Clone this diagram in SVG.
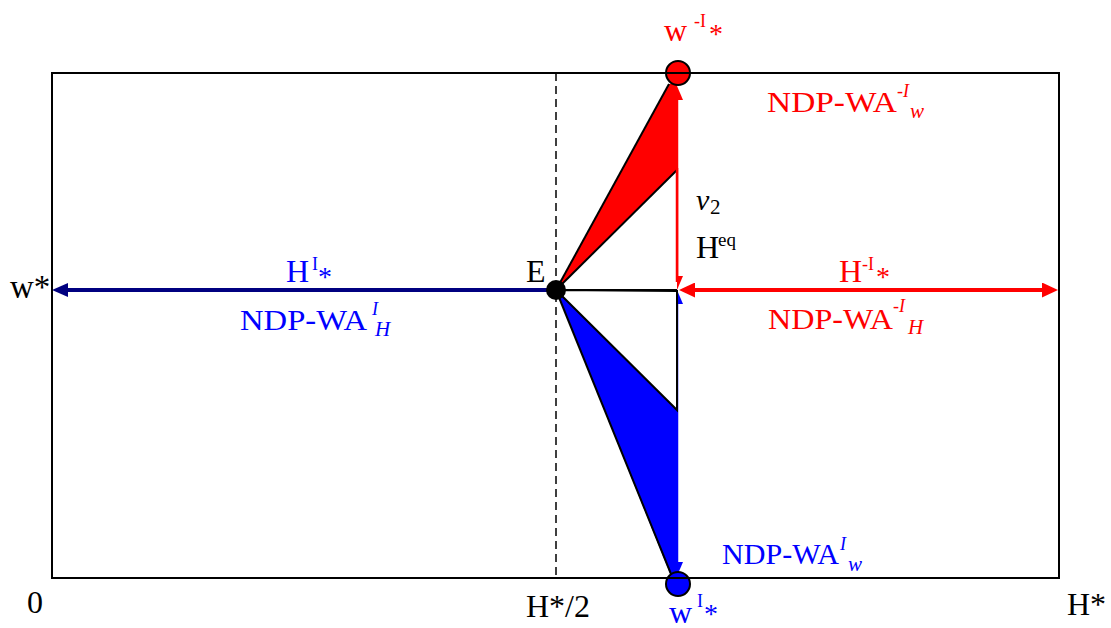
<svg xmlns="http://www.w3.org/2000/svg" width="1111" height="628" viewBox="0 0 1111 628">
<style>
text{font-family:"Liberation Serif","Times New Roman",serif;}
.k{fill:#000}.r{fill:#FF0000}.b{fill:#0000FF}
.m{font-size:29px}.big{font-size:32px}.sup{font-size:18px}.sub{font-size:21px;font-style:italic}.it{font-style:italic}.st{font-size:28px}
</style>
<defs>
<marker id="hN" markerUnits="userSpaceOnUse" markerWidth="16" markerHeight="14" refX="4" refY="7" orient="auto-start-reverse"><path d="M0,0 L16,7 L0,14 z" fill="#000080"/></marker>
<marker id="hR" markerUnits="userSpaceOnUse" markerWidth="16" markerHeight="15" refX="4" refY="7.5" orient="auto-start-reverse"><path d="M0,0 L16,7.5 L0,15 z" fill="#FF0000"/></marker>
<marker id="hRs" markerUnits="userSpaceOnUse" markerWidth="14" markerHeight="12" refX="4" refY="6" orient="auto-start-reverse"><path d="M0,0 L14,6 L0,12 z" fill="#FF0000"/></marker>
<marker id="hBs" markerUnits="userSpaceOnUse" markerWidth="14" markerHeight="12" refX="4" refY="6" orient="auto-start-reverse"><path d="M0,0 L14,6 L0,12 z" fill="#0000FF"/></marker>
</defs>
<rect width="1111" height="628" fill="#fff"/>
<g id="frame">
<line x1="556" y1="73" x2="556" y2="578" stroke="#000" stroke-width="1.5" stroke-dasharray="8,5"/>
</g>
<g id="connectors">
<line x1="556" y1="290" x2="64" y2="290" stroke="#000080" stroke-width="4" marker-end="url(#hN)"/>
<line x1="691" y1="290" x2="1046" y2="290" stroke="#FF0000" stroke-width="4" marker-start="url(#hR)" marker-end="url(#hR)"/>
<line x1="677" y1="96" x2="677" y2="280" stroke="#FF0000" stroke-width="2.5" marker-start="url(#hRs)" marker-end="url(#hRs)"/>
<line x1="677" y1="300" x2="677" y2="566" stroke="#0000FF" stroke-width="2.5" marker-start="url(#hBs)" marker-end="url(#hBs)"/>
</g>
<g id="red-area">
<polygon points="556,290 669,84 677,84 677,170" fill="#FF0000"/>
<line x1="556" y1="290" x2="669" y2="84" stroke="#000" stroke-width="2"/>
<polygon points="556,290 677,170 677,290" fill="#fff"/>
<line x1="556" y1="290" x2="677" y2="170" stroke="#000" stroke-width="2"/>
<line x1="677" y1="168" x2="677" y2="282" stroke="#FF0000" stroke-width="2.5"/>
</g>
<g id="blue-area">
<polygon points="556,290 677,410 677,576 671,576" fill="#0000FF"/>
<line x1="556" y1="290" x2="671" y2="574" stroke="#000" stroke-width="2"/>
<polygon points="556,290 677,410 677,291" fill="#fff" stroke="#000" stroke-width="2" stroke-linejoin="miter"/>
<line x1="556" y1="290" x2="677" y2="290" stroke="#000" stroke-width="2"/>
</g>
<g id="w-top">
<circle cx="678" cy="73" r="12" fill="#FF0000" stroke="#000" stroke-width="2"/>
<text class="r big" x="664" y="41">w</text>
<text class="r sup" x="694" y="27">-I</text>
<text class="r st" x="709" y="43">*</text>
</g>
<g id="w-bottom">
<circle cx="678" cy="584" r="12" fill="#0000FF" stroke="#000" stroke-width="2"/>
<text class="b big" x="669" y="623">w</text>
<text class="b sup" x="697" y="607">I</text>
<text class="b st" x="704" y="623">*</text>
</g>
<rect x="52" y="73" width="1007" height="505" fill="none" stroke="#000" stroke-width="2"/>
<g id="E">
<circle cx="556" cy="290" r="10" fill="#000"/>
<text class="k big" x="526" y="282">E</text>
</g>
<g id="labels">
<text class="k" x="10" y="298" font-size="33">w*</text>
<text class="k big" x="27" y="613">0</text>
<text class="k" x="526" y="617" font-size="32">H*/2</text>
<text class="k big" x="1067" y="615">H*</text>
<text class="k it" x="696" y="210" font-size="30">v</text>
<text class="k" x="710" y="214" font-size="21">2</text>
<text class="k big" x="696" y="258">H</text>
<text class="k" x="718" y="246" font-size="19">eq</text>
<text class="b big" x="286" y="282">H</text>
<text class="b sup" x="312" y="270">I</text>
<text class="b st" x="318" y="286">*</text>
<text class="r big" x="839" y="282">H</text>
<text class="r sup" x="862" y="270">-I</text>
<text class="r st" x="876" y="286">*</text>
<text class="b m" x="240" y="330" textLength="127" lengthAdjust="spacingAndGlyphs">NDP-WA</text>
<text class="b sup it" x="372" y="315">I</text>
<text class="b sub" x="375" y="336">H</text>
<text class="r m" x="768" y="329" textLength="125" lengthAdjust="spacingAndGlyphs">NDP-WA</text>
<text class="r sup" x="893" y="312">-<tspan class="it">I</tspan></text>
<text class="r sub" x="908" y="334">H</text>
<text class="r m" x="767" y="112" textLength="130" lengthAdjust="spacingAndGlyphs">NDP-WA</text>
<text class="r sup" x="897" y="97">-<tspan class="it">I</tspan></text>
<text class="r sub" x="910" y="118">w</text>
<text class="b m" x="722" y="564" textLength="117" lengthAdjust="spacingAndGlyphs">NDP-WA</text>
<text class="b sup it" x="840" y="550">I</text>
<text class="b sub" x="848" y="571">w</text>
</g>
</svg>
